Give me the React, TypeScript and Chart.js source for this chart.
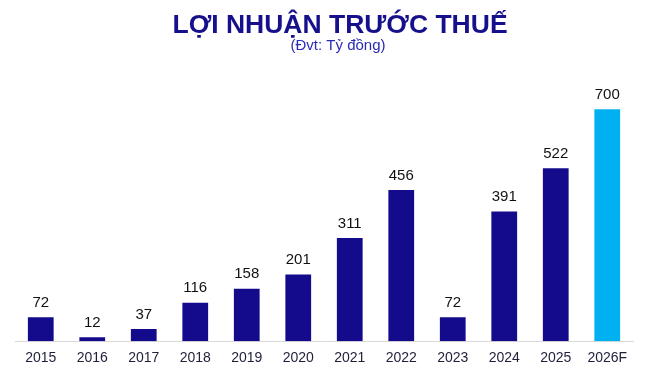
import React, { useEffect, useRef } from "react";
import { Chart, registerables } from "chart.js";

Chart.register(...registerables);

const categories = ["2015", "2016", "2017", "2018", "2019", "2020", "2021", "2022", "2023", "2024", "2025", "2026F"];
const profitValues = [72, 12, 37, 116, 158, 201, 311, 456, 72, 391, 522, 700];
const barColors = ["#140A8C", "#140A8C", "#140A8C", "#140A8C", "#140A8C", "#140A8C", "#140A8C", "#140A8C", "#140A8C", "#140A8C", "#140A8C", "#00B0F0"];
const titleText = "LỢI NHUẬN TRƯỚC THUẾ";
const subtitleText = "(Đvt: Tỷ đồng)";

const FONT = "Arial, 'Liberation Sans', sans-serif";

const headerPlugin = {
  id: "header",
  afterDraw(chart: any) {
    const ctx = chart.ctx;
    ctx.save();
    ctx.textAlign = "center";
    ctx.textBaseline = "alphabetic";
    ctx.fillStyle = "#16108C";
    ctx.font = `bold 26.5px ${FONT}`;
    ctx.fillText(titleText, 340, 33);
    ctx.fillStyle = "#2B2BB8";
    ctx.font = `15px ${FONT}`;
    ctx.fillText(subtitleText, 338, 50);
    ctx.restore();
  },
};

const labelPlugin = {
  id: "valueLabels",
  afterDatasetsDraw(chart: any) {
    const ctx = chart.ctx;
    const meta = chart.getDatasetMeta(0);
    ctx.save();
    ctx.textAlign = "center";
    ctx.textBaseline = "bottom";
    ctx.fillStyle = "#111111";
    ctx.font = `15px ${FONT}`;
    meta.data.forEach((bar: any, i: number) => {
      ctx.fillText(String(profitValues[i]), bar.x, bar.y - 7);
    });
    ctx.restore();
  },
};

export default function App() {
  const ref = useRef<HTMLCanvasElement>(null);
  useEffect(() => {
    document.body.style.margin = "0";
    const chart = new Chart(ref.current!, {
      type: "bar",
      data: {
        labels: categories,
        datasets: [
          {
            data: profitValues,
            backgroundColor: barColors,
            barPercentage: 0.5,
            categoryPercentage: 1,
          },
        ],
      },
      options: {
        animation: false,
        responsive: false,
        maintainAspectRatio: false,
        layout: { padding: { top: 76, left: 15, right: 15, bottom: 5 } },
        plugins: { legend: { display: false }, tooltip: { enabled: false } },
        scales: {
          x: {
            grid: { display: false, drawTicks: false, tickLength: 0 },
            border: { display: true, color: "#D9D9D9", width: 1 },
            ticks: { color: "#1F1F3A", font: { size: 14, family: FONT }, padding: 9 },
          },
          y: {
            display: false,
            min: 0,
            max: 800,
          },
        },
      },
      plugins: [headerPlugin, labelPlugin],
    });
    return () => chart.destroy();
  }, []);
  return (
    <div style={{ width: 648, height: 381 }}>
      <canvas ref={ref} width={648} height={381} style={{ width: 648, height: 381 }} />
    </div>
  );
}
